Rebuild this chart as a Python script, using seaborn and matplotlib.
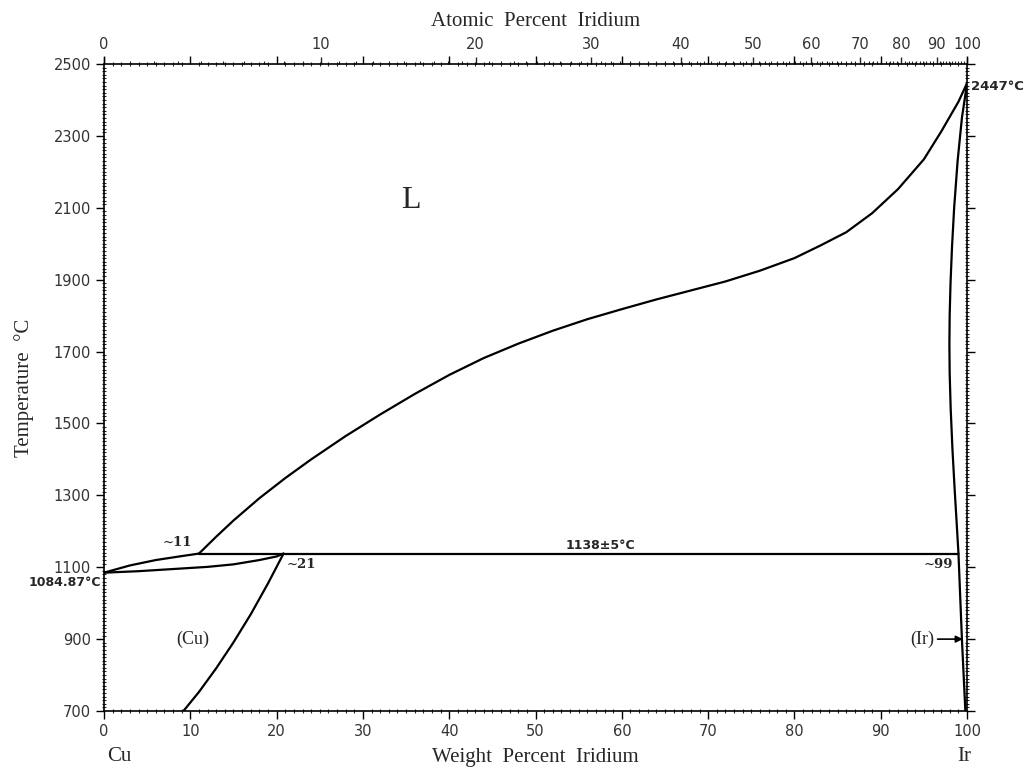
import numpy as np
import matplotlib
matplotlib.use("Agg")
import matplotlib.pyplot as plt
import seaborn as sns
from matplotlib.ticker import MultipleLocator, FixedLocator

# Cu-Ir phase diagram, curves
# liquidus, from the peritectic point up to pure Ir
liq_w = [11, 13, 15, 18, 21, 24, 28, 32, 36, 40, 44, 48, 52, 56, 60, 64, 68, 72,
         76, 80, 83, 86, 89, 92, 95, 97, 99, 100]
liq_t = [1138, 1185, 1230, 1292, 1348, 1400, 1465, 1525, 1582, 1635, 1682, 1722, 1758, 1790,
         1818, 1845, 1870, 1895, 1925, 1960, 1995, 2032, 2085, 2152, 2235, 2312, 2395, 2447]

# Cu-rich side liquidus / solidus lens
cu_liq_w = [0, 3, 6, 9, 11]
cu_liq_t = [1084.87, 1105, 1120, 1131, 1138]
cu_sol_w = [0, 4, 8, 12, 15, 18, 20, 20.8]
cu_sol_t = [1084.87, 1089, 1095, 1101, 1108, 1120, 1130, 1138]

# solvus of (Cu)
cu_solv_w = [20.8, 19, 17, 15, 13, 11, 9.2]
cu_solv_t = [1138, 1055, 969, 891, 819, 753, 700]

# Ir-rich solidus and solvus
ir_sol_w = [100, 99.4, 98.9, 98.5, 98.25, 98.08, 97.98, 97.95, 97.98, 98.1, 98.3, 98.55, 98.8, 99.0]
ir_sol_t = [2447, 2350, 2230, 2100, 1990, 1890, 1800, 1720, 1640, 1540, 1430, 1320, 1220, 1138]
ir_solv_w = [99.0, 99.4, 99.8]
ir_solv_t = [1138, 900, 700]

# peritectic horizontal
per_w = [11, 99]
per_t = [1138, 1138]

y_ticks = [700, 900, 1100, 1300, 1500, 1700, 1900, 2100, 2300, 2500]
x_ticks = [0, 10, 20, 30, 40, 50, 60, 70, 80, 90, 100]
at_ticks = [0, 10, 20, 30, 40, 50, 60, 70, 80, 90, 100]

M_CU = 63.546
M_IR = 192.22


def wt_to_at(w):
    w = np.clip(np.asarray(w, dtype=float), 0, 100)
    a = w / M_IR
    b = (100 - w) / M_CU
    return 100 * a / np.maximum(a + b, 1e-12)


def at_to_wt(x):
    x = np.clip(np.asarray(x, dtype=float), 0, 100)
    a = x * M_IR
    b = (100 - x) * M_CU
    return 100 * a / np.maximum(a + b, 1e-12)


sns.set_style("ticks")
plt.rcParams['font.family'] = ['Liberation Serif', 'DejaVu Serif']

fig = plt.figure(figsize=(10.33, 7.71), dpi=100)
ax = fig.add_axes([0.1007, 0.0778, 0.8355, 0.8392])

curves = [(liq_w, liq_t), (cu_liq_w, cu_liq_t), (cu_sol_w, cu_sol_t),
          (cu_solv_w, cu_solv_t), (ir_sol_w, ir_sol_t), (ir_solv_w, ir_solv_t),
          (per_w, per_t)]
for xs, ys in curves:
    sns.lineplot(x=xs, y=ys, sort=False, estimator=None, color="black", lw=1.6, ax=ax)

ax.set_xlim(0, 100)
ax.set_ylim(700, 2500)
ax.set_xticks(x_ticks)
ax.set_yticks(y_ticks)
ax.xaxis.set_minor_locator(MultipleLocator(1))
ax.yaxis.set_minor_locator(MultipleLocator(10))
for s in ax.spines.values():
    s.set_linewidth(1.2)
    s.set_color("black")

ax.tick_params(which="major", direction="out", length=6, width=1, top=True, right=True,
               labelsize=10.5, colors="black")
ax.tick_params(which="minor", direction="inout", length=3, width=0.8, top=True, right=True)
for lab in ax.get_xticklabels() + ax.get_yticklabels():
    lab.set_family("DejaVu Sans")
    lab.set_color("#333333")

ax.set_xlabel("Weight  Percent  Iridium", fontsize=15, labelpad=6)
ax.set_ylabel("Temperature  °C", fontsize=15, labelpad=14)

# atomic percent on top
sec = ax.secondary_xaxis("top", functions=(wt_to_at, at_to_wt))
sec.set_xticks(at_ticks)
sec.xaxis.set_minor_locator(FixedLocator(np.arange(0, 100, 1)))
sec.tick_params(which="major", direction="out", length=5, width=1, labelsize=10.5)
sec.tick_params(which="minor", direction="out", length=2.5, width=0.8)
for lab in sec.get_xticklabels():
    lab.set_family("DejaVu Sans")
    lab.set_color("#333333")
sec.set_xlabel("Atomic  Percent  Iridium", fontsize=15, labelpad=8)
sec.spines["top"].set_visible(False)

# annotations
ax.text(35.5, 2120, "L", fontsize=23, ha="center", va="center")
ax.text(10.2, 1152, "~11", fontsize=9.5, family="DejaVu Serif", fontweight="bold",
        ha="right", va="bottom")
ax.text(21.1, 1125, "~21", fontsize=9.5, family="DejaVu Serif", fontweight="bold",
        ha="left", va="top")
ax.text(98.4, 1125, "~99", fontsize=9.5, family="DejaVu Serif", fontweight="bold",
        ha="right", va="top")
ax.text(57.5, 1142, "1138±5°C", fontsize=9, family="DejaVu Sans", fontweight="bold",
        ha="center", va="bottom")
ax.text(-0.4, 1077, "1084.87°C", fontsize=9, family="DejaVu Sans", fontweight="bold",
        ha="right", va="top")
ax.text(100.4, 2436, "2447°C", fontsize=9.5, family="DejaVu Sans", fontweight="bold",
        ha="left", va="center")
ax.text(10.3, 900, "(Cu)", fontsize=13, ha="center", va="center")
ax.annotate("(Ir)", xy=(99.5, 900), xytext=(96.2, 900), fontsize=13, ha="right", va="center",
            arrowprops=dict(arrowstyle="-|>", color="black", lw=1.2, mutation_scale=10,
                            shrinkA=0, shrinkB=0))

xt = ax.get_xaxis_transform()
ax.text(1.8, -0.055, "Cu", transform=xt, fontsize=15, ha="center", va="top")
ax.text(99.7, -0.055, "Ir", transform=xt, fontsize=15, ha="center", va="top")

fig.savefig("out.png", dpi=100)
